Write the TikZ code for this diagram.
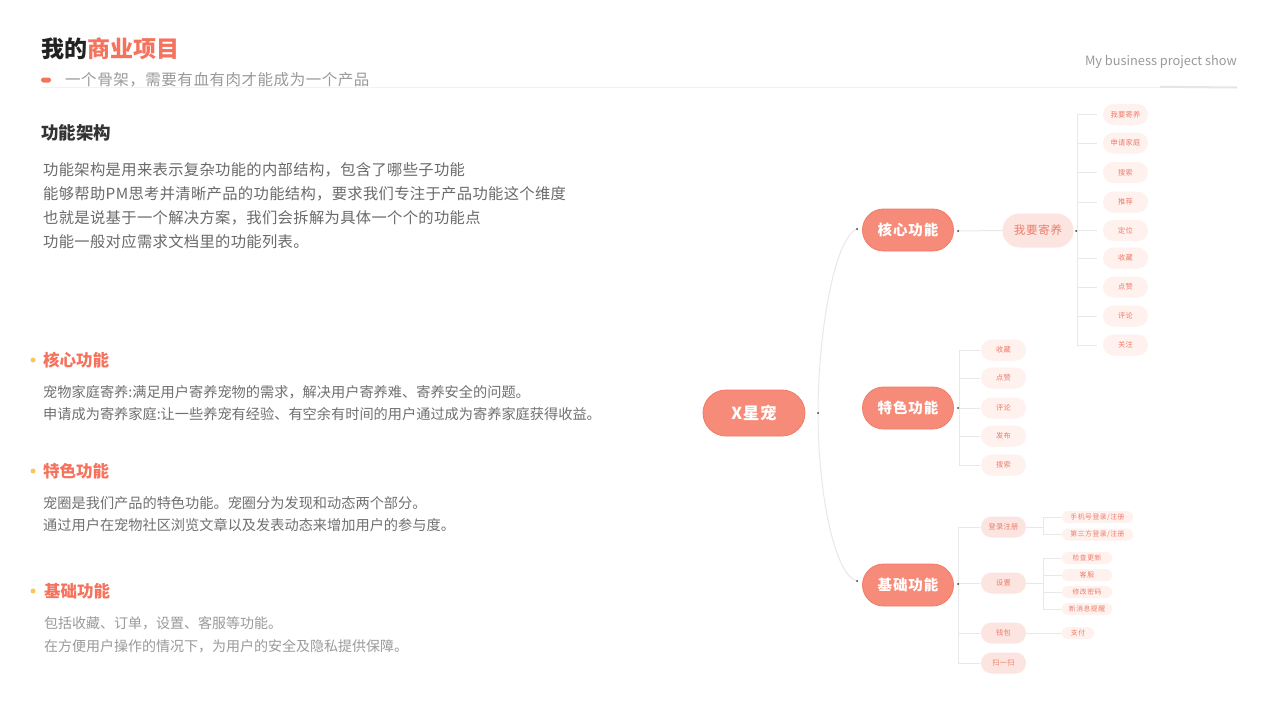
\documentclass[tikz,border=0pt]{standalone}
\usepackage{fontspec}
\setmainfont{Noto Sans CJK SC}
\usetikzlibrary{shapes.misc}
\definecolor{salm}{HTML}{F78B79}
\definecolor{salmd}{HTML}{F27A66}
\definecolor{titlered}{HTML}{F5735D}
\definecolor{pinkA}{HTML}{FCE5E0}
\definecolor{pinkB}{HTML}{FEF1EE}
\definecolor{pinkT}{HTML}{EE7B68}
\definecolor{lineg}{HTML}{E8E8E8}
\definecolor{yel}{HTML}{FBC75C}
\definecolor{dark}{HTML}{222222}
\definecolor{hdgray}{HTML}{333333}
\definecolor{paragray}{HTML}{6A6A6A}
\definecolor{bodygray}{HTML}{707070}
\definecolor{lightgray}{HTML}{9A9A9A}
\tikzset{
  txt/.style={anchor=west, inner sep=0pt},
  conn/.style={draw=lineg, line width=1pt},
  dotn/.style={circle, fill=black!80, inner sep=0pt, minimum size=2pt},
  ydot/.style={circle, fill=yel, inner sep=0pt, minimum size=5pt},
  lzero/.style={rounded rectangle, fill=salm, draw=salmd, line width=0.8pt, text=white,
     font=\fontsize{16.5}{16.5}\selectfont\bfseries\addfontfeature{LetterSpace=4}, minimum width=102pt, minimum height=46pt, inner sep=0pt},
  lone/.style={lzero, minimum width=91pt, minimum height=42pt, font=\fontsize{14.5}{14.5}\selectfont\bfseries\addfontfeature{LetterSpace=6}},
  ltwo/.style={rounded rectangle, fill=pinkA, text=pinkT, font=\fontsize{11.5}{11.5}\selectfont\addfontfeature{LetterSpace=6},
     minimum width=71pt, minimum height=34pt, inner sep=0pt},
  leaf/.style={rounded rectangle, fill=pinkB, text=pinkT, font=\fontsize{7.2}{7.2}\selectfont\addfontfeature{LetterSpace=5},
     minimum width=45pt, minimum height=21pt, inner sep=0pt},
  subleaf/.style={leaf, fill=pinkA},
  tinyleaf/.style={leaf, minimum height=12pt, font=\fontsize{6.8}{6.8}\selectfont\addfontfeature{LetterSpace=8}},
}
\begin{document}
\begin{tikzpicture}[x=1pt,y=-1pt]
\useasboundingbox (0,0) rectangle (1280,720);
\fill[white] (0,0) rectangle (1280,720);

% ---------- header ----------
\node[txt, font=\fontsize{23}{23}\selectfont\bfseries, text=dark] (title) at (41,49) {我的\textcolor{titlered}{商业项目}};
\node[rounded rectangle, fill=titlered, minimum width=10pt, minimum height=5pt, inner sep=0pt] (rp) at (46,80) {};
\node[txt, font=\fontsize{15.5}{15.5}\selectfont\addfontfeature{LetterSpace=3.5}, text=lightgray] (subt) at (65,80) {一个骨架，需要有血有肉才能成为一个产品};
\node[anchor=east, inner sep=0pt, font=\fontsize{12.8}{12.8}\selectfont, text=lightgray] (eng) at (1237,62) {My business project show};
\coordinate (hla) at (41,87.5);
\coordinate (hlb) at (1237,87.5);
\coordinate (hlc) at (1160,86.8);
\draw[draw=black!5, line width=0.6pt] (hla) -- (hlb);
\draw[draw=black!10, line width=2pt] (hlc) -- (hlb);

% ---------- intro ----------
\node[txt, font=\fontsize{17.5}{17.5}\selectfont\bfseries, text=hdgray] (fa) at (41,133) {功能架构};
\begin{scope}[every node/.style={txt, font=\fontsize{15.3}{15.3}\selectfont\addfontfeature{LetterSpace=2.2}, text=paragray}]
\node (p1) at (43,170) {功能架构是用来表示复杂功能的内部结构，包含了哪些子功能};
\node (p2) at (43,194) {能够帮助PM思考并清晰产品的功能结构，要求我们专注于产品功能这个维度};
\node (p3) at (43,218) {也就是说基于一个解决方案，我们会拆解为具体一个个的功能点};
\node (p4) at (43,242) {功能一般对应需求文档里的功能列表。};
\end{scope}

% ---------- bullets ----------
\begin{scope}[every node/.style={txt, font=\fontsize{16.5}{16.5}\selectfont\bfseries, text=titlered}]
\node (h1) at (43,360) {核心功能};
\node (h2) at (43,471) {特色功能};
\node (h3) at (44,591) {基础功能};
\end{scope}
\node[ydot] (y1) at (33,360) {};
\node[ydot] (y2) at (33,471) {};
\node[ydot] (y3) at (33,591) {};
\begin{scope}[every node/.style={txt, font=\fontsize{14.2}{14.2}\selectfont, text=bodygray}]
\node (b11) at (43,392) {宠物家庭寄养:满足用户寄养宠物的需求，解决用户寄养难、寄养安全的问题。};
\node (b12) at (43,414) {申请成为寄养家庭:让一些养宠有经验、有空余有时间的用户通过成为寄养家庭获得收益。};
\node (b21) at (43,503) {宠圈是我们产品的特色功能。宠圈分为发现和动态两个部分。};
\node (b22) at (43,525) {通过用户在宠物社区浏览文章以及发表动态来增加用户的参与度。};
\end{scope}
\begin{scope}[every node/.style={txt, font=\fontsize{14}{14}\selectfont, text=lightgray}]
\node (b31) at (44,623) {包括收藏、订单，设置、客服等功能。};
\node (b32) at (44,646) {在方便用户操作的情况下，为用户的安全及隐私提供保障。};
\end{scope}

% ---------- mind map ----------
\node[lzero] (root) at (754,413) {X星宠};
\node[lone] (k1) at (908,230) {核心功能};
\node[lone] (k2) at (908,408) {特色功能};
\node[lone] (k3) at (908,585) {基础功能};

\coordinate (rd) at (818,413);
\coordinate (k1l) at (857,229);
\coordinate (k3l) at (857,581);
\draw[conn] (rd) .. controls (818,335) and (834,238) .. (k1l);
\draw[conn] (rd) .. controls (818,491) and (834,575) .. (k3l);

% core
\node[ltwo] (w) at (1038,230.5) {我要寄养};
\coordinate (k1r) at (958,231);
\draw[conn] (k1r) -- (w.west);
\foreach \n/\y/\t in {c1/114.5/我要寄养, c2/143/申请家庭, c3/172.5/搜索, c4/202/推荐, c5/230.5/定位, c6/258/收藏, c7/287/点赞, c8/316/评论, c9/345/关注}{
  \node[leaf] (\n) at (1125.5,\y) {\t};
}
\coordinate (cb) at (1077,230.5);
\draw[conn] (cb |- c1) -- (cb |- c9);
\foreach \n in {c1,c2,c3,c4,c5,c6,c7,c8,c9}{
  \draw[conn] (cb |- \n) -- ([xshift=-6pt]\n.west);
}

% feature
\foreach \n/\y/\t in {f1/350/收藏, f2/378/点赞, f3/408/评论, f4/436/发布, f5/465/搜索}{
  \node[leaf] (\n) at (1003.5,\y) {\t};
}
\coordinate (fb) at (959,408);
\draw[conn] (fb |- f1) -- (fb |- f5);
\foreach \n in {f1,f2,f3,f4,f5}{
  \draw[conn] (fb |- \n) -- ([xshift=-1pt]\n.west);
}

% basic
\foreach \n/\y/\t in {g1/527/登录注册, g2/583/设置, g3/633/钱包, g4/663/扫一扫}{
  \node[subleaf] (\n) at (1003.5,\y) {\t};
}
\coordinate (gb) at (958,584);
\draw[conn] (gb |- g1) -- (gb |- g4);
\foreach \n in {g1,g2,g3,g4}{
  \draw[conn] (gb |- \n) -- ([xshift=-1pt]\n.west);
}
% login
\node[tinyleaf, minimum width=71pt] (m1) at (1097.5,517) {手机号登录/注册};
\node[tinyleaf, minimum width=71pt] (m2) at (1097.5,534.5) {第三方登录/注册};
\coordinate (mb) at (1043,527);
\draw[conn] (g1.east) -- (mb);
\draw[conn] (mb |- m1) -- (mb |- m2);
\draw[conn] (mb |- m1) -- (m1.west);
\draw[conn] (mb |- m2) -- (m2.west);
% settings
\foreach \n/\y/\t in {s1/558/检查更新, s2/575/客服, s3/592/修改密码, s4/609/新消息提醒}{
  \node[tinyleaf, minimum width=50pt] (\n) at (1087,\y) {\t};
}
\coordinate (sb) at (1043,583);
\draw[conn] (g2.east) -- (sb);
\draw[conn] (sb |- s1) -- (sb |- s4);
\foreach \n in {s1,s2,s3,s4}{
  \draw[conn] (sb |- \n) -- (\n.west);
}
% wallet
\node[tinyleaf, minimum width=32pt] (pay) at (1078,633) {支付};
\draw[conn] (g3.east) -- (pay.west);

% dots
\node[dotn] (d0) at (rd) {};
\node[dotn] (d1) at (k1l) {};
\node[dotn] (d3) at (k3l) {};
\node[dotn] (d4) at (k1r) {};
\node[dotn] (d5) at (1076,231) {};
\node[dotn] (d6) at (958,408) {};
\node[dotn] (d7) at (958,584) {};
\end{tikzpicture}
\end{document}
